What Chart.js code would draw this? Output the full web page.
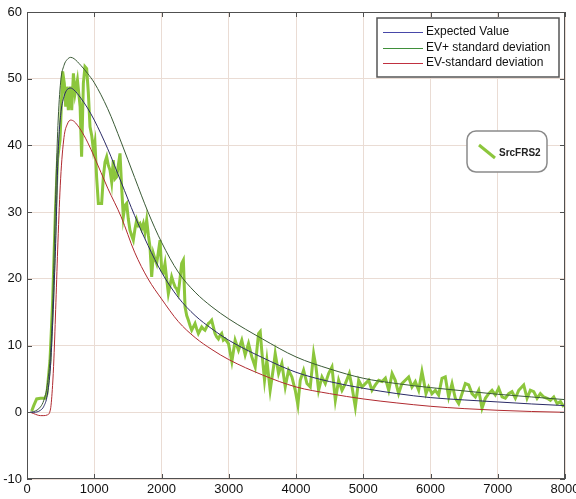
<!DOCTYPE html>
<html>
<head>
<meta charset="utf-8">
<script src="https://cdn.jsdelivr.net/npm/chart.js@4.4.1/dist/chart.umd.min.js"></script>
<style>
    html, body { margin: 0; padding: 0; background: #fff; }
    #wrap { width: 576px; height: 499px; }
</style>
</head>
<body>
<div id="wrap"><canvas id="srcChart" width="576" height="499"></canvas></div>
<script>
// time axis samples for the three expected-value curves
const evX = [50, 100, 200, 250, 300, 350, 380, 400, 430, 460, 500, 550, 600, 650, 700, 800, 900, 1000,
    1200, 1400, 1600, 1800, 2000, 2250, 2500, 2750, 3000, 3500, 4000, 4500, 5000, 5500, 6000, 6500, 7000, 7500, 8000];
const evPlus = [0, 0.1, 0.8, 1.8, 4, 9, 15.5, 22.5, 34, 43, 49.5, 52, 52.9, 53.2, 53.0, 52.0, 50.8, 49.4,
    45.5, 40.5, 35.2, 30.0, 25.5, 21.0, 18.0, 15.8, 14.0, 11.0, 8.3, 6.5, 5.1, 4.3, 3.7, 3.2, 2.7, 2.3, 1.9];
const evMean = [0, 0, 0.3, 0.9, 2.5, 7, 13, 18, 26.5, 38, 44.5, 47.3, 48.4, 48.6, 48.3, 47.1, 45.6, 43.8,
    39.5, 34.5, 29.5, 25.0, 21.0, 17.2, 14.5, 12.5, 10.8, 8.2, 6.0, 4.6, 3.6, 2.8, 2.2, 1.85, 1.55, 1.25, 1.0];
const evMinus = [0, -0.2, -0.5, -0.5, -0.4, 0.5, 4, 8, 16.5, 25.5, 35, 41.2, 43.2, 43.8, 43.6, 42.3, 40.5, 38.3,
    33.6, 29.3, 24.0, 20.0, 17.0, 13.6, 11.2, 9.4, 7.9, 5.6, 3.8, 2.8, 2.0, 1.4, 0.9, 0.55, 0.3, 0.12, 0];

// measured SrcFRS2 trace
const srcX = [70, 100, 144, 200, 268, 297, 342, 382, 422, 455, 491, 530, 555, 575, 590, 615, 640, 665, 690, 715,
    750, 790, 812, 838, 862, 887, 912, 937, 962, 987, 1010, 1036, 1061, 1110, 1135, 1160, 1185, 1210, 1234, 1259,
    1283, 1308, 1333, 1358, 1383, 1407, 1432, 1457, 1482, 1506, 1531, 1556, 1581, 1606, 1631, 1655, 1680, 1705,
    1730, 1755, 1780, 1805, 1829, 1854, 1879, 1903, 1928, 1953, 1978, 2003, 2027, 2052, 2077, 2102, 2126, 2151,
    2176, 2201, 2225, 2250, 2275, 2300, 2325, 2350, 2375, 2400, 2424, 2449, 2474, 2499, 2523, 2548, 2573, 2598,
    2622, 2647, 2672, 2697, 2721, 2746, 2771, 2796, 2821, 2846, 2870, 2895, 2920, 2946, 2996, 3046, 3095, 3145,
    3194, 3244, 3294, 3343, 3393, 3443, 3468, 3492, 3532, 3567, 3616, 3666, 3691, 3741, 3790, 3840, 3889, 3939,
    3989, 4028, 4063, 4113, 4163, 4212, 4262, 4297, 4336, 4386, 4436, 4485, 4535, 4585, 4634, 4684, 4734, 4793,
    4833, 4882, 4932, 4982, 5031, 5081, 5130, 5180, 5230, 5280, 5329, 5379, 5429, 5476, 5526, 5575, 5625, 5675,
    5724, 5774, 5824, 5873, 5898, 5933, 5972, 6022, 6072, 6121, 6171, 6220, 6270, 6320, 6369, 6419, 6469, 6518,
    6568, 6617, 6667, 6717, 6766, 6816, 6865, 6915, 6964, 7014, 7064, 7113, 7163, 7212, 7262, 7312, 7386, 7436,
    7485, 7535, 7585, 7634, 7684, 7734, 7783, 7833, 7883, 7932, 7982];
const srcY = [0.2, 1.0, 2.0, 2.1, 2.1, 2.8, 7.8, 16.8, 30, 38, 40.8, 51.1, 49.3, 45.8, 48.8, 45.3, 48.8, 45.3, 50.8, 47.8,
    49.8, 45.8, 38.3, 49.3, 51.8, 51.5, 47.9, 42.8, 41.5, 39.3, 40.5, 35.1, 31.3, 31.3, 35.3, 37.5, 38.3, 37.0, 36.3, 34.5,
    37.8, 35.0, 35.3, 37.0, 38.8, 33.8, 29.3, 31.0, 31.3, 29.0, 27.3, 26.5, 25.8, 27.5, 28.8, 28.0, 28.3, 27.5,
    28.3, 27.0, 28.8, 26.5, 24.8, 20.3, 23.8, 23.0, 22.3, 24.0, 25.8, 21.3, 21.0, 22.3, 20.0, 17.8, 19.0, 20.3,
    19.5, 18.8, 18.5, 17.8, 20.0, 22.3, 22.8, 15.8, 14.5, 13.8, 13.0, 12.3, 12.8, 13.3, 12.5, 11.8, 12.3, 12.8,
    12.5, 12.3, 12.8, 13.3, 13.5, 13.8, 12.8, 11.8, 11.3, 11.0, 11.5, 11.8, 10.8, 11.0, 10.3, 7.6, 10.8, 9.3,
    10.8, 8.6, 10.3, 8.3, 6.8, 11.8, 12.1, 9.1, 4.8, 7.8, 3.3, 6.8, 8.8, 5.8, 7.3, 3.8, 6.3, 5.3,
    3.3, 1.1, 4.8, 6.3, 4.3, 3.8, 8.8, 6.8, 3.3, 5.3, 4.3, 5.8, 6.8, 1.8, 4.8, 3.3, 4.3, 5.8,
    3.8, 0.8, 4.8, 3.8, 4.3, 4.8, 3.3, 4.1, 4.8, 4.6, 5.1, 3.3, 5.8, 4.8, 2.8, 4.3, 4.8, 5.3,
    3.8, 4.6, 3.3, 6.1, 4.8, 2.8, 3.8, 2.8, 3.3, 2.6, 5.1, 5.3, 2.3, 4.3, 2.1, 1.3, 2.8, 4.3,
    4.1, 2.8, 2.3, 3.3, 0.6, 2.1, 2.8, 3.3, 2.6, 3.6, 2.3, 2.1, 2.8, 3.1, 2.1, 3.3, 4.1, 2.1,
    3.3, 3.1, 2.1, 2.8, 2.3, 2.1, 1.8, 2.3, 1.3, 1.6, 0.8];

const yTicks = [-10, 0, 10, 20, 30, 40, 50, 60];
const xTicks = [0, 1000, 2000, 3000, 4000, 5000, 6000, 7000, 8000];

const toPoints = (xs, ys) => xs.map((x, i) => ({ x: x, y: ys[i] }));

const legendColors = {
    'Expected Value': '#4848a8',
    'EV+ standard deviation': '#3f8f3a',
    'EV-standard deviation': '#c03040'
};

// matlab style box, inward ticks and the two legend boxes
const frameAndLegends = {
    id: 'frameAndLegends',
    afterDatasetsDraw(chart) {
        const ctx = chart.ctx;
        const a = chart.chartArea;
        const sx = chart.scales.x;
        const sy = chart.scales.y;
        ctx.save();
        ctx.strokeStyle = '#505050';
        ctx.lineWidth = 1;
        ctx.strokeRect(a.left + 0.5, a.top + 0.5, a.right - a.left - 1, a.bottom - a.top - 1);

        ctx.beginPath();
        xTicks.forEach(v => {
            const px = Math.round(sx.getPixelForValue(v)) + 0.5;
            ctx.moveTo(px, a.bottom); ctx.lineTo(px, a.bottom - 5);
            ctx.moveTo(px, a.top); ctx.lineTo(px, a.top + 5);
        });
        yTicks.forEach(v => {
            const py = Math.round(sy.getPixelForValue(v)) + 0.5;
            ctx.moveTo(a.left, py); ctx.lineTo(a.left + 5, py);
            ctx.moveTo(a.right, py); ctx.lineTo(a.right - 5, py);
        });
        ctx.stroke();

        // first legend: the three model curves
        const lx = a.right - 188;
        const ly = a.top + 6;
        ctx.fillStyle = '#fff';
        ctx.fillRect(lx, ly, 182, 59);
        ctx.strokeStyle = '#555';
        ctx.lineWidth = 1.5;
        ctx.strokeRect(lx, ly, 182, 59);
        ctx.font = '12px "Liberation Sans", Arial, sans-serif';
        ctx.textBaseline = 'middle';
        chart.data.datasets.slice(0, 3).forEach((ds, i) => {
            const ry = Math.round(ly + 14 + i * 15.5);
            ctx.strokeStyle = legendColors[ds.label];
            ctx.lineWidth = 1;
            ctx.beginPath();
            ctx.moveTo(lx + 6, ry + 0.5);
            ctx.lineTo(lx + 46, ry + 0.5);
            ctx.stroke();
            ctx.fillStyle = '#111';
            ctx.fillText(ds.label, lx + 49, ry);
        });

        // second legend: measured trace
        const bx = a.right - 98;
        const by = a.top + 119;
        ctx.beginPath();
        ctx.roundRect(bx, by, 80, 41, 9);
        ctx.fillStyle = '#fff';
        ctx.fill();
        ctx.strokeStyle = '#8a8a8a';
        ctx.lineWidth = 1.5;
        ctx.stroke();
        const src = chart.data.datasets[3];
        ctx.strokeStyle = src.borderColor;
        ctx.lineWidth = 3;
        ctx.beginPath();
        ctx.moveTo(bx + 12, by + 14);
        ctx.lineTo(bx + 28, by + 27);
        ctx.stroke();
        ctx.fillStyle = '#222';
        ctx.font = 'bold 10px "Liberation Sans", Arial, sans-serif';
        ctx.fillText(src.label, bx + 32, by + 22);
        ctx.restore();
    }
};

document.addEventListener('DOMContentLoaded', () => {
    const ctx = document.getElementById('srcChart');
    new Chart(ctx, {
        type: 'line',
        data: {
            datasets: [
                {
                    label: 'Expected Value',
                    data: toPoints(evX, evMean),
                    borderColor: '#2a2a66',
                    borderWidth: 1,
                    cubicInterpolationMode: 'monotone',
                    order: 0
                },
                {
                    label: 'EV+ standard deviation',
                    data: toPoints(evX, evPlus),
                    borderColor: '#3a5a36',
                    borderWidth: 1,
                    cubicInterpolationMode: 'monotone',
                    order: 0
                },
                {
                    label: 'EV-standard deviation',
                    data: toPoints(evX, evMinus),
                    borderColor: '#b02a30',
                    borderWidth: 1,
                    cubicInterpolationMode: 'monotone',
                    order: 0
                },
                {
                    label: 'SrcFRS2',
                    data: toPoints(srcX, srcY),
                    borderColor: '#8cc63c',
                    borderWidth: 3,
                    tension: 0,
                    order: 1
                }
            ]
        },
        options: {
            responsive: false,
            animation: false,
            events: [],
            elements: { point: { radius: 0 } },
            layout: { padding: { top: 12, right: 11, bottom: 0, left: 0 } },
            plugins: {
                legend: { display: false },
                tooltip: { enabled: false }
            },
            scales: {
                x: {
                    type: 'linear',
                    min: 0,
                    max: 8000,
                    afterBuildTicks: (scale) => { scale.ticks = xTicks.map(v => ({ value: v })); },
                    afterFit: (scale) => { scale.height = 20; scale.paddingLeft = 0; scale.paddingRight = 0; },
                    ticks: {
                        color: '#111',
                        padding: 3,
                        maxRotation: 0,
                        callback: (v) => String(v),
                        font: { family: '"Liberation Sans", Arial, sans-serif', size: 13 }
                    },
                    grid: { color: '#eadcd4', drawTicks: false },
                    border: { display: false }
                },
                y: {
                    min: -10,
                    max: 60,
                    afterBuildTicks: (scale) => { scale.ticks = yTicks.map(v => ({ value: v })); },
                    afterFit: (scale) => { scale.width = 27; scale.paddingTop = 0; scale.paddingBottom = 0; },
                    ticks: {
                        color: '#111',
                        padding: 5,
                        callback: (v) => String(v),
                        font: { family: '"Liberation Sans", Arial, sans-serif', size: 13 }
                    },
                    grid: { color: '#eadcd4', drawTicks: false },
                    border: { display: false }
                }
            }
        },
        plugins: [frameAndLegends]
    });
});
</script>
</body>
</html>
